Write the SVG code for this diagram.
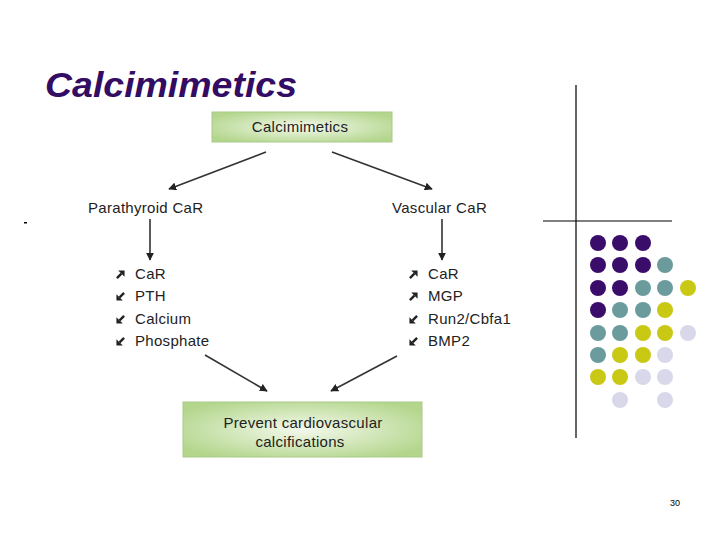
<svg xmlns="http://www.w3.org/2000/svg" width="720" height="540" viewBox="0 0 720 540">
<style>
.t{font-family:"Liberation Sans",Arial,sans-serif;font-size:15px;letter-spacing:0.3px;fill:#222}
.edge{stroke:#333;stroke-width:1.6;fill:none;marker-end:url(#ah)}
.box{fill:url(#g);stroke:#a9c98a;stroke-width:1}
.P{fill:#3b0d6b}.T{fill:#6b9b9c}.Y{fill:#c9c814}.L{fill:#d8d8ea}
</style>
<defs>
<marker id="ah" viewBox="0 0 10 10" refX="9" refY="5" markerWidth="8" markerHeight="8" orient="auto" markerUnits="userSpaceOnUse">
<path d="M0,0 L10,5 L0,10 z" fill="#222"/>
</marker>
<radialGradient id="g" cx="0.5" cy="0.5" r="0.6">
<stop offset="0" stop-color="#f4f9ec"/>
<stop offset="1" stop-color="#b3d68c"/>
</radialGradient>
<symbol id="up" viewBox="0 0 10 10" overflow="visible">
<line x1="1" y1="9" x2="6" y2="4" stroke="#222" stroke-width="2.6"/>
<polygon points="2.5,0.5 9.5,0.5 9.5,7.5" fill="#222"/>
</symbol>
<symbol id="dn" viewBox="0 0 10 10" overflow="visible">
<line x1="9" y1="1" x2="4" y2="6" stroke="#222" stroke-width="2.6"/>
<polygon points="7.5,9.5 0.5,9.5 0.5,2.5" fill="#222"/>
</symbol>
</defs>
<rect width="720" height="540" fill="#fff"/>
<text x="45" y="97" font-family="Liberation Sans,Arial,sans-serif" font-size="35" font-style="italic" font-weight="bold" fill="#330c63" textLength="252" lengthAdjust="spacingAndGlyphs">Calcimimetics</text>
<rect x="24" y="222" width="3" height="1.5" fill="#000"/>
<line x1="576" y1="85" x2="576" y2="438" stroke="#000" stroke-width="1.2"/>
<line x1="543" y1="221" x2="672" y2="221" stroke="#000" stroke-width="1.2"/>
<g id="top">
<rect class="box" x="212" y="112" width="180" height="30"/>
<text class="t" x="300" y="132" text-anchor="middle">Calcimimetics</text>
</g>
<g id="parathyroid"><text class="t" x="88" y="213">Parathyroid CaR</text></g>
<g id="vascular"><text class="t" x="392" y="213" letter-spacing="0.6">Vascular CaR</text></g>
<g id="leftlist">
<use href="#up" x="116" y="270" width="9" height="9"/><text class="t" x="135" y="279">CaR</text>
<use href="#dn" x="116" y="292" width="9" height="9"/><text class="t" x="135" y="301">PTH</text>
<use href="#dn" x="116" y="315" width="9" height="9"/><text class="t" x="135" y="324">Calcium</text>
<use href="#dn" x="116" y="337" width="9" height="9"/><text class="t" x="135" y="346">Phosphate</text>
</g>
<g id="rightlist">
<use href="#up" x="409" y="270" width="9" height="9"/><text class="t" x="428" y="279">CaR</text>
<use href="#up" x="409" y="292" width="9" height="9"/><text class="t" x="428" y="301">MGP</text>
<use href="#dn" x="409" y="315" width="9" height="9"/><text class="t" x="428" y="324">Run2/Cbfa1</text>
<use href="#dn" x="409" y="337" width="9" height="9"/><text class="t" x="428" y="346">BMP2</text>
</g>
<g id="bottom">
<rect class="box" x="183" y="402" width="239" height="55"/>
<text class="t" x="303" y="428" text-anchor="middle">Prevent cardiovascular</text>
<text class="t" x="300" y="447" text-anchor="middle">calcifications</text>
</g>
<g id="connectors">
<line class="edge" x1="266" y1="152" x2="169" y2="189"/>
<line class="edge" x1="332" y1="152" x2="432" y2="189"/>
<line class="edge" x1="150" y1="219" x2="150" y2="260"/>
<line class="edge" x1="442" y1="219" x2="442" y2="260"/>
<line class="edge" x1="205" y1="355" x2="267" y2="391"/>
<line class="edge" x1="397" y1="356" x2="331" y2="391"/>
</g>
<g id="dots">
<circle class="P" cx="598" cy="243" r="8"/><circle class="P" cx="620" cy="243" r="8"/><circle class="P" cx="643" cy="243" r="8"/>
<circle class="P" cx="598" cy="265" r="8"/><circle class="P" cx="620" cy="265" r="8"/><circle class="P" cx="643" cy="265" r="8"/><circle class="T" cx="665" cy="265" r="8"/>
<circle class="P" cx="598" cy="288" r="8"/><circle class="P" cx="620" cy="288" r="8"/><circle class="T" cx="643" cy="288" r="8"/><circle class="T" cx="665" cy="288" r="8"/><circle class="Y" cx="688" cy="288" r="8"/>
<circle class="P" cx="598" cy="310" r="8"/><circle class="T" cx="620" cy="310" r="8"/><circle class="T" cx="643" cy="310" r="8"/><circle class="Y" cx="665" cy="310" r="8"/>
<circle class="T" cx="598" cy="333" r="8"/><circle class="T" cx="620" cy="333" r="8"/><circle class="Y" cx="643" cy="333" r="8"/><circle class="Y" cx="665" cy="333" r="8"/><circle class="L" cx="688" cy="333" r="8"/>
<circle class="T" cx="598" cy="355" r="8"/><circle class="Y" cx="620" cy="355" r="8"/><circle class="Y" cx="643" cy="355" r="8"/><circle class="L" cx="665" cy="355" r="8"/>
<circle class="Y" cx="598" cy="377" r="8"/><circle class="Y" cx="620" cy="377" r="8"/><circle class="L" cx="643" cy="377" r="8"/><circle class="L" cx="665" cy="377" r="8"/>
<circle class="L" cx="620" cy="400" r="8"/><circle class="L" cx="665" cy="400" r="8"/>
</g>
<text x="670" y="506" font-family="Liberation Sans,Arial,sans-serif" font-size="9" fill="#000">30</text>
</svg>
